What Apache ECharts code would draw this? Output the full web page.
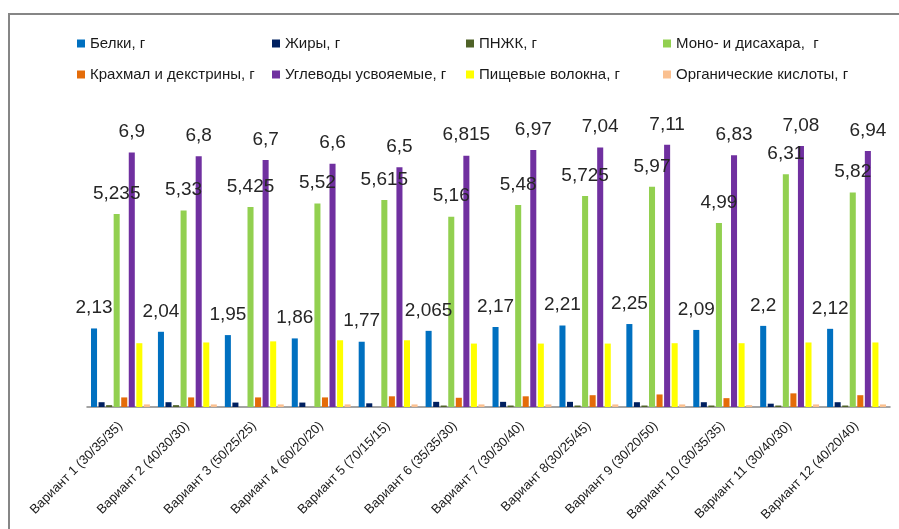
<!DOCTYPE html>
<html>
<head>
<meta charset="utf-8">
<script src="https://cdn.jsdelivr.net/npm/echarts@6/dist/echarts.min.js"></script>
<style>
html,body{margin:0;padding:0;background:#fff;}
#chart{width:899px;height:529px;}
</style>
</head>
<body>
<div id="chart"></div>
<script>
const categories = ['Вариант 1 (30/35/35)','Вариант 2 (40/30/30)','Вариант 3 (50/25/25)','Вариант 4 (60/20/20)','Вариант 5 (70/15/15)','Вариант 6 (35/35/30)','Вариант 7 (30/30/40)','Вариант 8(30/25/45)','Вариант 9 (30/20/50)','Вариант 10 (30/35/35)','Вариант 11 (30/40/30)','Вариант 12 (40/20/40)'];
const seriesNames = ['Белки, г','Жиры, г','ПНЖК, г','Моно- и дисахара,  г','Крахмал и декстрины, г','Углеводы усвояемые, г','Пищевые волокна, г','Органические кислоты, г'];
const belki = [2.13,2.04,1.95,1.86,1.77,2.065,2.17,2.21,2.25,2.09,2.2,2.12];
const zhiry = [0.13,0.13,0.12,0.12,0.10,0.14,0.14,0.14,0.13,0.13,0.09,0.13];
const pnzhk = [0.05,0.05,0,0,0,0.04,0.04,0.04,0.04,0.04,0.04,0.04];
const mono = [5.235,5.33,5.425,5.52,5.615,5.16,5.48,5.725,5.97,4.99,6.31,5.82];
const krakhmal = [0.26,0.26,0.26,0.26,0.29,0.25,0.29,0.32,0.34,0.24,0.37,0.32];
const uglevody = [6.9,6.8,6.7,6.6,6.5,6.815,6.97,7.04,7.11,6.83,7.08,6.94];
const volokna = [1.73,1.75,1.78,1.81,1.81,1.72,1.72,1.72,1.73,1.73,1.75,1.75];
const kisloty = [0.07,0.07,0.07,0.07,0.07,0.07,0.07,0.07,0.07,0.05,0.07,0.07];

const allData = [belki,zhiry,pnzhk,mono,krakhmal,uglevody,volokna,kisloty];
const colors = ['#0070C0','#002060','#4F6228','#92D050','#E46C0A','#7030A0','#FFFF00','#FAC090'];
const labeled = [true,false,false,true,false,true,false,false];

const legendPos = [[77,36],[272,36],[466,36],[663,36],[77,67],[272,67],[466,67],[663,67]];

const chart = echarts.init(document.getElementById('chart'), null, {renderer:'canvas'});

const series = allData.map((d,i)=>({
  name: seriesNames[i],
  type: 'bar',
  data: d,
  barGap: '25%',
  barCategoryGap: '12%',
  itemStyle: {color: colors[i]},
  label: labeled[i] ? {
    show: true,
    position: 'top',
    distance: 11,
    fontFamily: 'Liberation Sans',
    fontSize: 19,
    color: '#262626',
    formatter: p => String(p.value).replace('.', ',')
  } : {show:false},
  emphasis: {disabled: true}
}));

const legends = seriesNames.map((n,i)=>({
  data: [n],
  left: legendPos[i][0],
  top: legendPos[i][1],
  padding: 0,
  itemWidth: 8,
  itemHeight: 8,
  icon: 'rect',
  selectedMode: false,
  textStyle: {fontFamily: 'Liberation Sans', fontSize: 15, color: '#1a1a1a'}
}));

chart.setOption({
  animation: false,
  color: colors,
  graphic: [{
    type: 'rect',
    shape: {x: 9, y: 14, width: 1000, height: 1000},
    style: {fill: 'none', stroke: '#868686', lineWidth: 2},
    silent: true
  }],
  legend: legends,
  grid: {left: 87, right: 9, top: 112, bottom: 122, containLabel: false},
  xAxis: {
    type: 'category',
    data: categories,
    axisLine: {show: true, lineStyle: {color: '#868686', width: 1.5}},
    axisTick: {show: false},
    axisLabel: {
      interval: 0,
      rotate: 45,
      margin: 17,
      fontFamily: 'Liberation Sans',
      fontSize: 13,
      color: '#1a1a1a'
    }
  },
  yAxis: {
    type: 'value',
    min: 0,
    max: 8,
    show: false,
    splitLine: {show: false}
  },
  series: series
});
</script>
</body>
</html>
